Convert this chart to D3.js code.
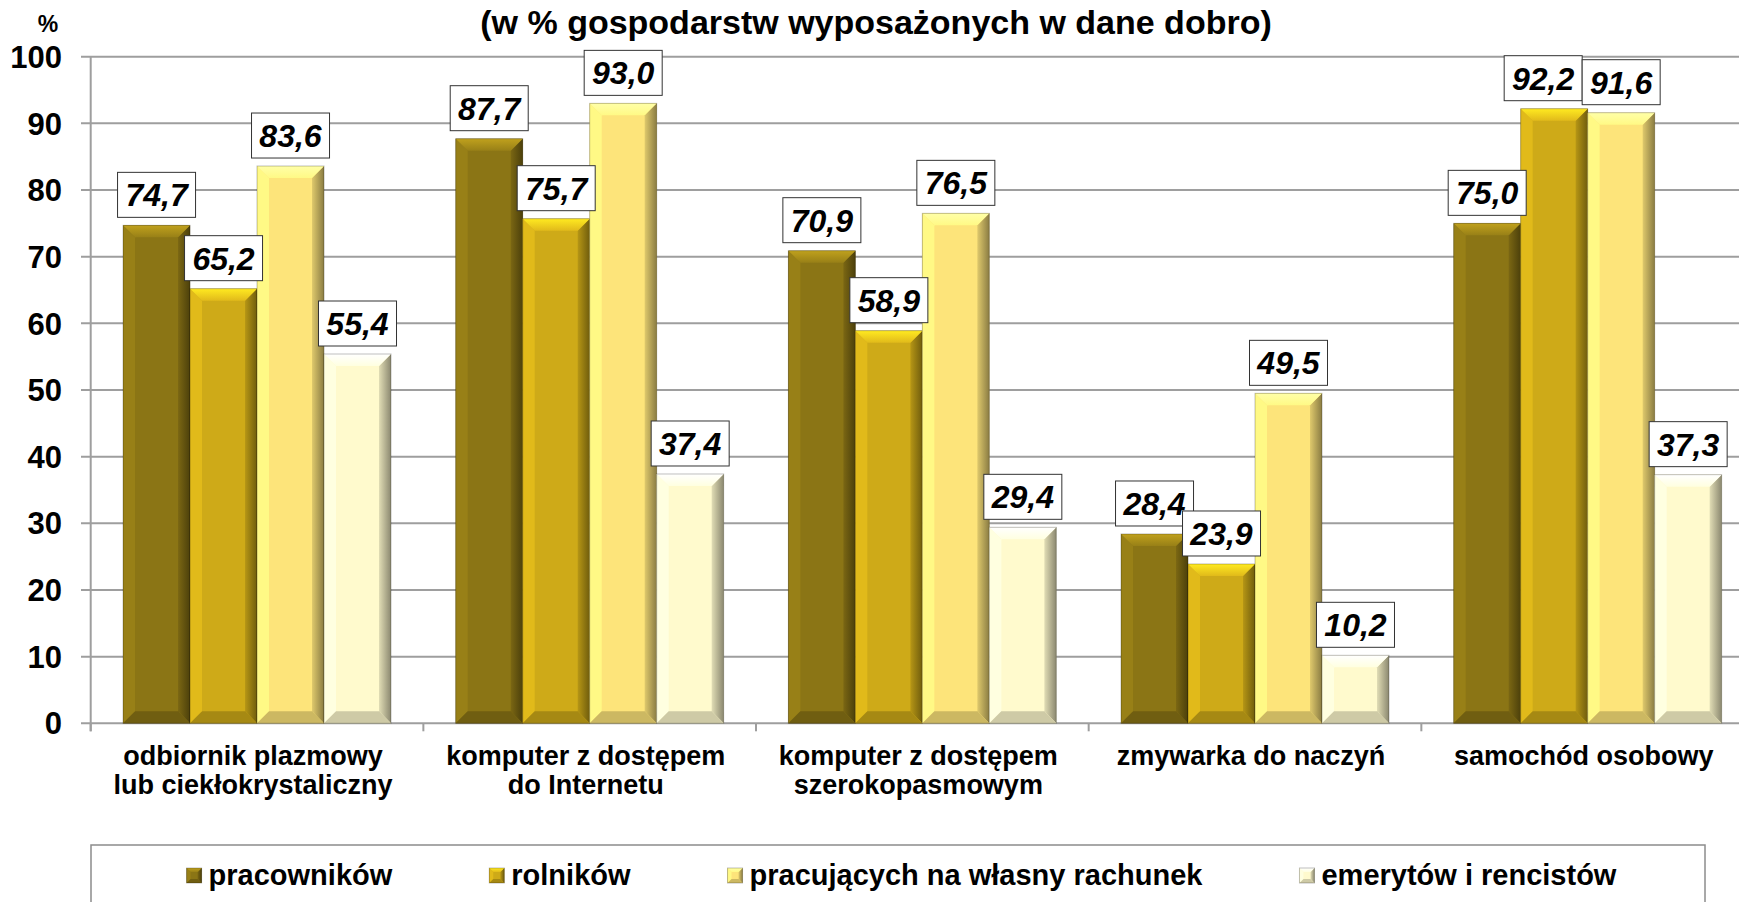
<!DOCTYPE html>
<meta charset="utf-8">
<style>
body {
  margin: 0;
  background: #fff;
  font-family: "Liberation Sans", Arial, Helvetica, sans-serif;
}
html { overflow: hidden; }
text { font-weight: bold; fill: #000; }
.grid line { stroke: #9e9e9e; stroke-width: 2px; }
.vlabel rect { fill: #fff; stroke: #333; stroke-width: 1px; }
.vlabel text { font-style: italic; font-size: 32px; text-anchor: middle; }
</style>
<body>
<script src="https://cdnjs.cloudflare.com/ajax/libs/d3/7.8.5/d3.min.js"></script>
<script>
// dane
var categories = [
  ["odbiornik plazmowy", "lub ciekłokrystaliczny"],
  ["komputer z dostępem", "do Internetu"],
  ["komputer z dostępem", "szerokopasmowym"],
  ["zmywarka do naczyń"],
  ["samochód osobowy"]
];
var series = ["pracowników", "rolników", "pracujących na własny rachunek", "emerytów i rencistów"];
var colors = ["#8b7515", "#ceaa18", "#fde47a", "#fffacd"];
var pracownikow = [74.7, 87.7, 70.9, 28.4, 75.0];
var rolnikow = [65.2, 75.7, 58.9, 23.9, 92.2];
var pracujacych = [83.6, 93.0, 76.5, 49.5, 91.6];
var emerytow = [55.4, 37.4, 29.4, 10.2, 37.3];
var values = [pracownikow, rolnikow, pracujacych, emerytow];
var yTicks = [0, 10, 20, 30, 40, 50, 60, 70, 80, 90, 100];

var W = 1739, H = 902;
var svg = d3.select("body").append("svg").attr("width", W).attr("height", H);
var defs = svg.append("defs");

var x0 = d3.scaleBand().domain(d3.range(categories.length)).range([90.7, 1754]).padding(0);
var x1 = d3.scaleBand().domain(d3.range(series.length)).range([0, x0.bandwidth()])
  .paddingInner(0).paddingOuter(0.483);
var y = d3.scaleLinear().domain([0, 100]).range([723.3, 56.7]);

var fmt = function(v) { return d3.format(".1f")(v).replace(".", ","); };

// gradienty do fazowania
colors.forEach(function(c, i) {
  var col = d3.color(c);
  var g = defs.append("linearGradient").attr("id", "right" + i)
    .attr("x1", "0").attr("y1", "0").attr("x2", "1").attr("y2", "0");
  g.append("stop").attr("offset", "0%").attr("stop-color", col.darker(0.35));
  g.append("stop").attr("offset", "100%").attr("stop-color", col.darker(1.7));
  var t = defs.append("linearGradient").attr("id", "top" + i)
    .attr("x1", "0").attr("y1", "0").attr("x2", "0").attr("y2", "1");
  t.append("stop").attr("offset", "0%").attr("stop-color", col.brighter(0.9));
  t.append("stop").attr("offset", "100%").attr("stop-color", col.brighter(0.25));
});

function bevelBar(g, bx, by, bw, bh, i, b) {
  var c = d3.color(colors[i]);
  b = Math.min(b, bh / 2, bw / 2);
  g.append("rect").attr("x", bx).attr("y", by).attr("width", bw).attr("height", bh).attr("fill", c);
  g.append("polygon").attr("fill", c.brighter(0.25))
    .attr("points", [[bx, by], [bx + b, by + b], [bx + b, by + bh - b], [bx, by + bh]].join(" "));
  g.append("polygon").attr("fill", "url(#right" + i + ")")
    .attr("points", [[bx + bw, by], [bx + bw, by + bh], [bx + bw - b, by + bh - b], [bx + bw - b, by + b]].join(" "));
  g.append("polygon").attr("fill", c.darker(0.6))
    .attr("points", [[bx, by + bh], [bx + b, by + bh - b], [bx + bw - b, by + bh - b], [bx + bw, by + bh]].join(" "));
  g.append("polygon").attr("fill", "url(#top" + i + ")")
    .attr("points", [[bx, by], [bx + bw, by], [bx + bw - b, by + b], [bx + b, by + b]].join(" "));
  g.append("rect").attr("x", bx).attr("y", by).attr("width", bw).attr("height", bh)
    .attr("fill", "none").attr("stroke", "rgba(0,0,0,0.25)").attr("stroke-width", 1);
}

// siatka
svg.append("g").attr("class", "grid")
  .selectAll("line").data(yTicks).enter().append("line")
  .attr("x1", 81).attr("x2", W)
  .attr("y1", function(d) { return y(d); }).attr("y2", function(d) { return y(d); });

// oś Y
svg.append("line")
  .attr("x1", 90.7).attr("x2", 90.7).attr("y1", y(100)).attr("y2", y(0) + 8)
  .attr("stroke", "#9e9e9e").attr("stroke-width", 2);
svg.append("g").selectAll("text").data(yTicks).enter().append("text")
  .attr("x", 62).attr("y", function(d) { return y(d); }).attr("dy", "0.36em")
  .attr("text-anchor", "end").style("font-size", "31px")
  .text(function(d) { return d; });
svg.append("text").attr("x", 48).attr("y", 32).attr("text-anchor", "middle")
  .style("font-size", "23px").text("%");

// tytuł
svg.append("text").attr("x", 876).attr("y", 34).attr("text-anchor", "middle")
  .style("font-size", "34px").text("(w % gospodarstw wyposażonych w dane dobro)");

// znaczniki osi X
svg.append("g").selectAll("line").data(d3.range(categories.length + 1)).enter().append("line")
  .attr("x1", function(d) { return 90.7 + d * x0.bandwidth(); })
  .attr("x2", function(d) { return 90.7 + d * x0.bandwidth(); })
  .attr("y1", y(0)).attr("y2", y(0) + 8)
  .attr("stroke", "#9e9e9e").attr("stroke-width", 2);

// słupki
var groups = svg.append("g").selectAll("g.cat").data(categories).enter().append("g")
  .attr("class", "cat")
  .attr("transform", function(d, ci) { return "translate(" + x0(ci) + ",0)"; });

groups.each(function(d, ci) {
  var g = d3.select(this);
  series.forEach(function(s, si) {
    var v = values[si][ci];
    bevelBar(g, x1(si), y(v), x1.bandwidth(), y(0) - y(v), si, 12);
  });
});

// etykiety wartości
var labelShift = { "4-1": -11 };
groups.each(function(d, ci) {
  var g = d3.select(this);
  series.forEach(function(s, si) {
    var v = values[si][ci];
    var cx = x1(si) + x1.bandwidth() / 2 + (labelShift[ci + "-" + si] || 0);
    var bw = 78, bh = 45;
    var top = y(v) - 8 - bh;
    var lg = g.append("g").attr("class", "vlabel");
    lg.append("rect").attr("x", cx - bw / 2).attr("y", top).attr("width", bw).attr("height", bh);
    lg.append("text").attr("x", cx).attr("y", top + bh / 2 + 11.5).text(fmt(v));
  });
});

// podpisy kategorii
groups.append("text")
  .attr("text-anchor", "middle").style("font-size", "27px")
  .attr("transform", function() { return "translate(" + (x0.bandwidth() / 2 - 4) + ",765)"; })
  .selectAll("tspan").data(function(d) { return d; }).enter().append("tspan")
  .attr("x", 0).attr("dy", function(d, i) { return i ? 29 : 0; })
  .text(function(d) { return d; });

// legenda
var lg = svg.append("g").attr("class", "legend");
lg.append("rect").attr("x", 91).attr("y", 845).attr("width", 1614).attr("height", 70)
  .attr("fill", "#fff").attr("stroke", "#8c8c8c").attr("stroke-width", 1.5);
var items = lg.selectAll("g.item").data(series).enter().append("g").attr("class", "item");
items.append("text").attr("x", 22).attr("y", 885).style("font-size", "29px")
  .text(function(d) { return d; });
items.each(function(d, i) {
  bevelBar(d3.select(this), 0, 868, 15, 15, i, 4);
});
var widths = [];
items.select("text").each(function() { widths.push(22 + this.getComputedTextLength()); });
var gap = 97;
var total = d3.sum(widths) + gap * (widths.length - 1);
var start = 901.5 - total / 2;
items.attr("transform", function(d, i) {
  var off = start + d3.sum(widths.slice(0, i)) + gap * i;
  return "translate(" + off + ",0)";
});
</script>
</body>
